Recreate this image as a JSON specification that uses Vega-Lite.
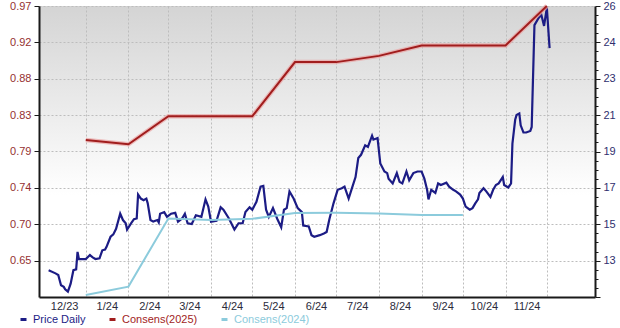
{
  "$schema": "https://vega.github.io/schema/vega-lite/v6.json",
  "width": 556,
  "height": 291,
  "autosize": {"type": "none"},
  "padding": {"left": 39, "top": 6, "right": 25, "bottom": 31},
  "background": "#ffffff",
  "config": {
    "view": {"stroke": null, "fill": {"gradient": "linear", "x1": 0, "y1": 0, "x2": 0, "y2": 1, "stops": [{"offset": 0, "color": "#d4d4d4"}, {"offset": 0.65, "color": "#ffffff"}, {"offset": 1, "color": "#ffffff"}]}},
    "font": "Liberation Sans",
    "axis": {"labelFont": "Liberation Sans", "labelFontSize": 11, "title": null, "domainColor": "#1a1a1a", "domainWidth": 2, "tickColor": "#1a1a1a"}
  },
  "data": {"values": [
    {"date": "2023-12-05", "series": "Price Daily", "value": 0.638},
    {"date": "2023-12-10", "series": "Price Daily", "value": 0.634},
    {"date": "2023-12-12", "series": "Price Daily", "value": 0.632},
    {"date": "2023-12-14", "series": "Price Daily", "value": 0.619},
    {"date": "2023-12-16", "series": "Price Daily", "value": 0.617},
    {"date": "2023-12-17", "series": "Price Daily", "value": 0.614},
    {"date": "2023-12-19", "series": "Price Daily", "value": 0.611},
    {"date": "2023-12-21", "series": "Price Daily", "value": 0.621},
    {"date": "2023-12-23", "series": "Price Daily", "value": 0.638},
    {"date": "2023-12-25", "series": "Price Daily", "value": 0.639},
    {"date": "2023-12-26", "series": "Price Daily", "value": 0.661},
    {"date": "2023-12-27", "series": "Price Daily", "value": 0.652},
    {"date": "2023-12-29", "series": "Price Daily", "value": 0.652},
    {"date": "2024-01-01", "series": "Price Daily", "value": 0.652},
    {"date": "2024-01-04", "series": "Price Daily", "value": 0.657},
    {"date": "2024-01-06", "series": "Price Daily", "value": 0.654},
    {"date": "2024-01-08", "series": "Price Daily", "value": 0.652},
    {"date": "2024-01-11", "series": "Price Daily", "value": 0.653},
    {"date": "2024-01-13", "series": "Price Daily", "value": 0.663},
    {"date": "2024-01-15", "series": "Price Daily", "value": 0.664},
    {"date": "2024-01-16", "series": "Price Daily", "value": 0.667},
    {"date": "2024-01-19", "series": "Price Daily", "value": 0.680},
    {"date": "2024-01-21", "series": "Price Daily", "value": 0.683},
    {"date": "2024-01-23", "series": "Price Daily", "value": 0.690},
    {"date": "2024-01-26", "series": "Price Daily", "value": 0.709},
    {"date": "2024-01-28", "series": "Price Daily", "value": 0.701},
    {"date": "2024-01-30", "series": "Price Daily", "value": 0.697},
    {"date": "2024-01-31", "series": "Price Daily", "value": 0.689},
    {"date": "2024-02-03", "series": "Price Daily", "value": 0.697},
    {"date": "2024-02-05", "series": "Price Daily", "value": 0.702},
    {"date": "2024-02-07", "series": "Price Daily", "value": 0.703},
    {"date": "2024-02-08", "series": "Price Daily", "value": 0.733},
    {"date": "2024-02-10", "series": "Price Daily", "value": 0.728},
    {"date": "2024-02-12", "series": "Price Daily", "value": 0.726},
    {"date": "2024-02-14", "series": "Price Daily", "value": 0.728},
    {"date": "2024-02-15", "series": "Price Daily", "value": 0.722},
    {"date": "2024-02-17", "series": "Price Daily", "value": 0.701},
    {"date": "2024-02-19", "series": "Price Daily", "value": 0.699},
    {"date": "2024-02-22", "series": "Price Daily", "value": 0.701},
    {"date": "2024-02-23", "series": "Price Daily", "value": 0.698},
    {"date": "2024-02-24", "series": "Price Daily", "value": 0.709},
    {"date": "2024-02-27", "series": "Price Daily", "value": 0.711},
    {"date": "2024-02-29", "series": "Price Daily", "value": 0.705},
    {"date": "2024-03-03", "series": "Price Daily", "value": 0.709},
    {"date": "2024-03-06", "series": "Price Daily", "value": 0.710},
    {"date": "2024-03-08", "series": "Price Daily", "value": 0.699},
    {"date": "2024-03-11", "series": "Price Daily", "value": 0.703},
    {"date": "2024-03-13", "series": "Price Daily", "value": 0.709},
    {"date": "2024-03-15", "series": "Price Daily", "value": 0.697},
    {"date": "2024-03-18", "series": "Price Daily", "value": 0.696},
    {"date": "2024-03-21", "series": "Price Daily", "value": 0.707},
    {"date": "2024-03-25", "series": "Price Daily", "value": 0.705},
    {"date": "2024-03-28", "series": "Price Daily", "value": 0.727},
    {"date": "2024-03-30", "series": "Price Daily", "value": 0.718},
    {"date": "2024-04-01", "series": "Price Daily", "value": 0.699},
    {"date": "2024-04-05", "series": "Price Daily", "value": 0.700},
    {"date": "2024-04-08", "series": "Price Daily", "value": 0.717},
    {"date": "2024-04-10", "series": "Price Daily", "value": 0.714},
    {"date": "2024-04-14", "series": "Price Daily", "value": 0.703},
    {"date": "2024-04-18", "series": "Price Daily", "value": 0.689},
    {"date": "2024-04-21", "series": "Price Daily", "value": 0.697},
    {"date": "2024-04-24", "series": "Price Daily", "value": 0.697},
    {"date": "2024-04-26", "series": "Price Daily", "value": 0.711},
    {"date": "2024-04-29", "series": "Price Daily", "value": 0.717},
    {"date": "2024-05-01", "series": "Price Daily", "value": 0.714},
    {"date": "2024-05-04", "series": "Price Daily", "value": 0.724},
    {"date": "2024-05-07", "series": "Price Daily", "value": 0.743},
    {"date": "2024-05-09", "series": "Price Daily", "value": 0.744},
    {"date": "2024-05-11", "series": "Price Daily", "value": 0.714},
    {"date": "2024-05-13", "series": "Price Daily", "value": 0.705},
    {"date": "2024-05-16", "series": "Price Daily", "value": 0.716},
    {"date": "2024-05-19", "series": "Price Daily", "value": 0.703},
    {"date": "2024-05-22", "series": "Price Daily", "value": 0.692},
    {"date": "2024-05-24", "series": "Price Daily", "value": 0.714},
    {"date": "2024-05-26", "series": "Price Daily", "value": 0.716},
    {"date": "2024-05-28", "series": "Price Daily", "value": 0.737},
    {"date": "2024-05-31", "series": "Price Daily", "value": 0.728},
    {"date": "2024-06-03", "series": "Price Daily", "value": 0.716},
    {"date": "2024-06-06", "series": "Price Daily", "value": 0.711},
    {"date": "2024-06-07", "series": "Price Daily", "value": 0.694},
    {"date": "2024-06-11", "series": "Price Daily", "value": 0.693},
    {"date": "2024-06-13", "series": "Price Daily", "value": 0.682},
    {"date": "2024-06-15", "series": "Price Daily", "value": 0.680},
    {"date": "2024-06-19", "series": "Price Daily", "value": 0.682},
    {"date": "2024-06-22", "series": "Price Daily", "value": 0.684},
    {"date": "2024-06-24", "series": "Price Daily", "value": 0.686},
    {"date": "2024-06-26", "series": "Price Daily", "value": 0.702},
    {"date": "2024-06-29", "series": "Price Daily", "value": 0.722},
    {"date": "2024-07-02", "series": "Price Daily", "value": 0.739},
    {"date": "2024-07-05", "series": "Price Daily", "value": 0.741},
    {"date": "2024-07-07", "series": "Price Daily", "value": 0.743},
    {"date": "2024-07-10", "series": "Price Daily", "value": 0.728},
    {"date": "2024-07-12", "series": "Price Daily", "value": 0.739},
    {"date": "2024-07-15", "series": "Price Daily", "value": 0.755},
    {"date": "2024-07-17", "series": "Price Daily", "value": 0.779},
    {"date": "2024-07-19", "series": "Price Daily", "value": 0.783},
    {"date": "2024-07-22", "series": "Price Daily", "value": 0.795},
    {"date": "2024-07-24", "series": "Price Daily", "value": 0.793},
    {"date": "2024-07-27", "series": "Price Daily", "value": 0.807},
    {"date": "2024-07-28", "series": "Price Daily", "value": 0.802},
    {"date": "2024-07-31", "series": "Price Daily", "value": 0.804},
    {"date": "2024-08-02", "series": "Price Daily", "value": 0.772},
    {"date": "2024-08-05", "series": "Price Daily", "value": 0.762},
    {"date": "2024-08-07", "series": "Price Daily", "value": 0.760},
    {"date": "2024-08-08", "series": "Price Daily", "value": 0.753},
    {"date": "2024-08-11", "series": "Price Daily", "value": 0.747},
    {"date": "2024-08-14", "series": "Price Daily", "value": 0.760},
    {"date": "2024-08-16", "series": "Price Daily", "value": 0.749},
    {"date": "2024-08-18", "series": "Price Daily", "value": 0.747},
    {"date": "2024-08-21", "series": "Price Daily", "value": 0.762},
    {"date": "2024-08-23", "series": "Price Daily", "value": 0.751},
    {"date": "2024-08-26", "series": "Price Daily", "value": 0.760},
    {"date": "2024-08-29", "series": "Price Daily", "value": 0.762},
    {"date": "2024-09-01", "series": "Price Daily", "value": 0.762},
    {"date": "2024-09-03", "series": "Price Daily", "value": 0.753},
    {"date": "2024-09-05", "series": "Price Daily", "value": 0.739},
    {"date": "2024-09-06", "series": "Price Daily", "value": 0.727},
    {"date": "2024-09-08", "series": "Price Daily", "value": 0.739},
    {"date": "2024-09-11", "series": "Price Daily", "value": 0.735},
    {"date": "2024-09-13", "series": "Price Daily", "value": 0.747},
    {"date": "2024-09-15", "series": "Price Daily", "value": 0.745},
    {"date": "2024-09-19", "series": "Price Daily", "value": 0.748},
    {"date": "2024-09-21", "series": "Price Daily", "value": 0.743},
    {"date": "2024-09-24", "series": "Price Daily", "value": 0.739},
    {"date": "2024-09-26", "series": "Price Daily", "value": 0.737},
    {"date": "2024-09-29", "series": "Price Daily", "value": 0.733},
    {"date": "2024-10-01", "series": "Price Daily", "value": 0.728},
    {"date": "2024-10-03", "series": "Price Daily", "value": 0.718},
    {"date": "2024-10-06", "series": "Price Daily", "value": 0.714},
    {"date": "2024-10-08", "series": "Price Daily", "value": 0.716},
    {"date": "2024-10-10", "series": "Price Daily", "value": 0.722},
    {"date": "2024-10-12", "series": "Price Daily", "value": 0.727},
    {"date": "2024-10-13", "series": "Price Daily", "value": 0.735},
    {"date": "2024-10-16", "series": "Price Daily", "value": 0.741},
    {"date": "2024-10-18", "series": "Price Daily", "value": 0.737},
    {"date": "2024-10-21", "series": "Price Daily", "value": 0.730},
    {"date": "2024-10-23", "series": "Price Daily", "value": 0.739},
    {"date": "2024-10-25", "series": "Price Daily", "value": 0.745},
    {"date": "2024-10-27", "series": "Price Daily", "value": 0.747},
    {"date": "2024-10-30", "series": "Price Daily", "value": 0.755},
    {"date": "2024-10-31", "series": "Price Daily", "value": 0.745},
    {"date": "2024-11-03", "series": "Price Daily", "value": 0.742},
    {"date": "2024-11-05", "series": "Price Daily", "value": 0.747},
    {"date": "2024-11-06", "series": "Price Daily", "value": 0.797},
    {"date": "2024-11-08", "series": "Price Daily", "value": 0.827},
    {"date": "2024-11-09", "series": "Price Daily", "value": 0.833},
    {"date": "2024-11-11", "series": "Price Daily", "value": 0.835},
    {"date": "2024-11-12", "series": "Price Daily", "value": 0.820},
    {"date": "2024-11-14", "series": "Price Daily", "value": 0.811},
    {"date": "2024-11-16", "series": "Price Daily", "value": 0.811},
    {"date": "2024-11-19", "series": "Price Daily", "value": 0.813},
    {"date": "2024-11-20", "series": "Price Daily", "value": 0.818},
    {"date": "2024-11-22", "series": "Price Daily", "value": 0.946},
    {"date": "2024-11-25", "series": "Price Daily", "value": 0.955},
    {"date": "2024-11-27", "series": "Price Daily", "value": 0.959},
    {"date": "2024-11-29", "series": "Price Daily", "value": 0.945},
    {"date": "2024-12-01", "series": "Price Daily", "value": 0.968},
    {"date": "2024-12-03", "series": "Price Daily", "value": 0.917},
    {"date": "2024-01-01", "series": "Consens(2025)", "value": 19.55},
    {"date": "2024-02-01", "series": "Consens(2025)", "value": 19.35},
    {"date": "2024-03-01", "series": "Consens(2025)", "value": 20.7},
    {"date": "2024-04-01", "series": "Consens(2025)", "value": 20.7},
    {"date": "2024-05-01", "series": "Consens(2025)", "value": 20.7},
    {"date": "2024-06-01", "series": "Consens(2025)", "value": 23.3},
    {"date": "2024-07-01", "series": "Consens(2025)", "value": 23.3},
    {"date": "2024-08-01", "series": "Consens(2025)", "value": 23.6},
    {"date": "2024-09-01", "series": "Consens(2025)", "value": 24.1},
    {"date": "2024-10-01", "series": "Consens(2025)", "value": 24.1},
    {"date": "2024-11-01", "series": "Consens(2025)", "value": 24.1},
    {"date": "2024-12-01", "series": "Consens(2025)", "value": 26.0},
    {"date": "2024-01-01", "series": "Consens(2024)", "value": 12.1},
    {"date": "2024-02-01", "series": "Consens(2024)", "value": 12.5},
    {"date": "2024-03-01", "series": "Consens(2024)", "value": 15.78},
    {"date": "2024-04-01", "series": "Consens(2024)", "value": 15.7},
    {"date": "2024-05-01", "series": "Consens(2024)", "value": 15.76},
    {"date": "2024-06-01", "series": "Consens(2024)", "value": 16.04},
    {"date": "2024-07-01", "series": "Consens(2024)", "value": 16.05},
    {"date": "2024-08-01", "series": "Consens(2024)", "value": 16.02},
    {"date": "2024-09-01", "series": "Consens(2024)", "value": 15.95},
    {"date": "2024-10-01", "series": "Consens(2024)", "value": 15.94}
  ]},
  "encoding": {
    "x": {
      "field": "date", "type": "temporal",
      "scale": {"type": "utc", "domain": [{"year": 2023, "month": 11, "date": 28, "utc": true}, {"year": 2025, "month": 1, "date": 5, "utc": true}]},
      "axis": {
        "values": [
          {"year": 2023, "month": 12, "date": 1, "utc": true},
          {"year": 2024, "month": 1, "date": 1, "utc": true},
          {"year": 2024, "month": 2, "date": 1, "utc": true},
          {"year": 2024, "month": 3, "date": 1, "utc": true},
          {"year": 2024, "month": 4, "date": 1, "utc": true},
          {"year": 2024, "month": 5, "date": 1, "utc": true},
          {"year": 2024, "month": 6, "date": 1, "utc": true},
          {"year": 2024, "month": 7, "date": 1, "utc": true},
          {"year": 2024, "month": 8, "date": 1, "utc": true},
          {"year": 2024, "month": 9, "date": 1, "utc": true},
          {"year": 2024, "month": 10, "date": 1, "utc": true},
          {"year": 2024, "month": 11, "date": 1, "utc": true},
          {"year": 2024, "month": 12, "date": 1, "utc": true}
        ],
        "labelExpr": "utcFormat(datum.value, '%Y-%m') == '2024-12' ? '' : utcFormat(datum.value, '%-m/%y')",
        "labelOffset": 21,
        "labelFlush": false,
        "labelOverlap": false,
        "labelPadding": 3,
        "labelColor": "#2b2b3b",
        "ticks": false,
        "grid": true,
        "gridDash": [2, 2],
        "gridColor": "#bdbdbd",
        "gridOpacity": {"condition": {"test": "utcFormat(datum.value, '%Y-%m') == '2023-12'", "value": 0}, "value": 1}
      }
    },
    "color": {
      "field": "series", "type": "nominal",
      "scale": {"domain": ["Price Daily", "Consens(2025)", "Consens(2024)"], "range": ["#1c1c85", "#a11d1d", "#8ccbdc"]},
      "legend": {
        "title": null, "orient": "none", "direction": "horizontal",
        "legendX": -21, "legendY": 308,
        "gridAlign": "none",
        "symbolType": "stroke", "symbolStrokeWidth": 3, "symbolSize": 36,
        "labelFont": "Liberation Sans", "labelFontSize": 11, "columnPadding": 17, "labelOffset": 4,
        "encode": {"labels": {"update": {"fill": {"scale": "color", "field": "value"}}}}
      }
    }
  },
  "layer": [
    {
      "transform": [{"filter": "datum.series == 'Price Daily'"}],
      "mark": {"type": "line", "strokeWidth": 2.2, "interpolate": "linear"},
      "encoding": {
        "y": {
          "field": "value", "type": "quantitative",
          "scale": {"domain": [0.604286, 0.97], "zero": false, "nice": false},
          "axis": {
            "orient": "left",
            "values": [0.65, 0.695714, 0.741429, 0.787143, 0.832857, 0.878571, 0.924286, 0.97],
            "format": ".2f",
            "labelColor": "#953131",
            "tickSize": 5,
            "labelPadding": 3,
            "grid": true, "gridDash": [2, 2], "gridColor": "#bdbdbd"
          }
        }
      }
    },
    {
      "encoding": {
        "y": {
          "field": "value", "type": "quantitative",
          "scale": {"domain": [12, 26], "zero": false, "nice": false},
          "axis": {
            "orient": "right",
            "values": [12, 12.4375, 12.875, 13.3125, 13.75, 14.1875, 14.625, 15.0625, 15.5, 15.9375, 16.375, 16.8125, 17.25, 17.6875, 18.125, 18.5625, 19, 19.4375, 19.875, 20.3125, 20.75, 21.1875, 21.625, 22.0625, 22.5, 22.9375, 23.375, 23.8125, 24.25, 24.6875, 25.125, 25.5625, 26],
            "labelExpr": "round((datum.value - 12) / 0.4375) % 4 == 0 ? ['', '13', '15', '17', '19', '21', '23', '24', '26'][round((datum.value - 12) / 1.75)] : ''",
            "labelColor": "#30306e",
            "tickSize": {"condition": {"test": "round((datum.value - 12) / 0.4375) % 4 == 0", "value": 5}, "value": 3},
            "labelPadding": 3,
            "labelOverlap": false,
            "grid": false
          }
        }
      },
      "layer": [
        {
          "transform": [{"filter": "datum.series == 'Consens(2025)'"}],
          "mark": {"type": "line", "strokeWidth": 4.5, "color": "#e9a3a3", "opacity": 0.7},
          "encoding": {"color": {"value": "#e9a3a3"}}
        },
        {
          "transform": [{"filter": "datum.series != 'Price Daily'"}],
          "mark": {"type": "line", "strokeWidth": 2}
        }
      ]
    }
  ],
  "resolve": {"scale": {"y": "independent"}}
}
